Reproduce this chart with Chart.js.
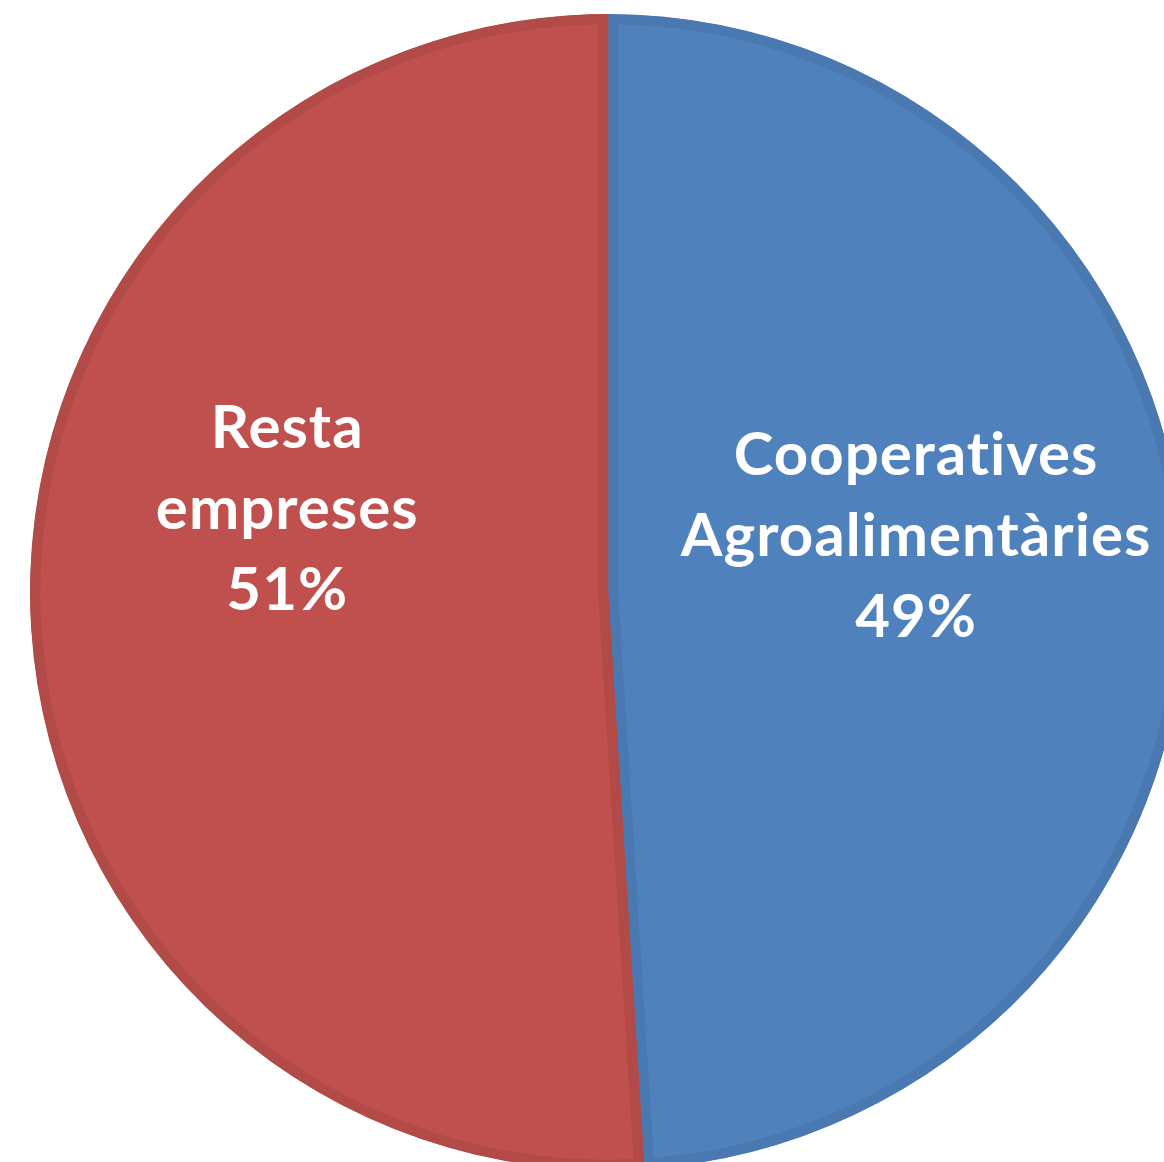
<!DOCTYPE html>
<html>
<head>
<meta charset="utf-8">
<script src="https://cdn.jsdelivr.net/npm/chart.js@4.4.0/dist/chart.umd.min.js"></script>
<style>
  html, body { margin: 0; padding: 0; background: #fff; overflow: hidden; }
  #wrap { position: absolute; left: 0; top: 0; width: 1216px; height: 1184px; }
</style>
</head>
<body>
<div id="wrap"><canvas id="pie"></canvas></div>
<script>
// dades del grafic
var categories = ['Cooperatives Agroalimentàries', 'Resta empreses'];
var labelLines = [['Cooperatives', 'Agroalimentàries'], ['Resta', 'empreses']];
var percentatges = [49, 51];

var colorsFons = ['#4F81BD', '#C0504D'];
var colorsVora = ['#4A78B0', '#B24A47'];

// posicio de cada etiqueta relativa al centre (fraccio del radi)
var posEtiquetes = [[0.533, -0.095], [-0.555, -0.142]];

var etiquetesPlugin = {
  id: 'etiquetes',
  afterDatasetsDraw: function (chart) {
    var ctx = chart.ctx;
    var meta = chart.getDatasetMeta(0);
    ctx.save();
    ctx.fillStyle = '#ffffff';
    ctx.font = 'bold 60px Lato';
    ctx.letterSpacing = '1px'; // evita la lligadura "ti"
    ctx.textAlign = 'center';
    ctx.textBaseline = 'middle';
    meta.data.forEach(function (arc, i) {
      var r = arc.outerRadius;
      var cx = arc.x + posEtiquetes[i][0] * r;
      var cy = arc.y + posEtiquetes[i][1] * r;
      var lines = labelLines[i].concat([percentatges[i] + '%']);
      var lh = 81;
      var y0 = cy - (lines.length - 1) * lh / 2;
      lines.forEach(function (t, k) {
        ctx.fillText(t, cx, y0 + k * lh);
      });
    });
    ctx.restore();
  }
};

var ctx = document.getElementById('pie').getContext('2d');
var grafic = new Chart(ctx, {
  type: 'pie',
  data: {
    labels: categories,
    datasets: [{
      data: percentatges,
      backgroundColor: colorsFons,
      borderColor: colorsVora,
      borderWidth: 10,
      borderAlign: 'inner',
      clip: false
    }]
  },
  options: {
    responsive: true,
    maintainAspectRatio: false,
    animation: false,
    radius: 578,
    layout: { padding: 0 },
    plugins: {
      legend: { display: false },
      tooltip: { enabled: false }
    }
  },
  plugins: [etiquetesPlugin]
});
</script>
</body>
</html>
